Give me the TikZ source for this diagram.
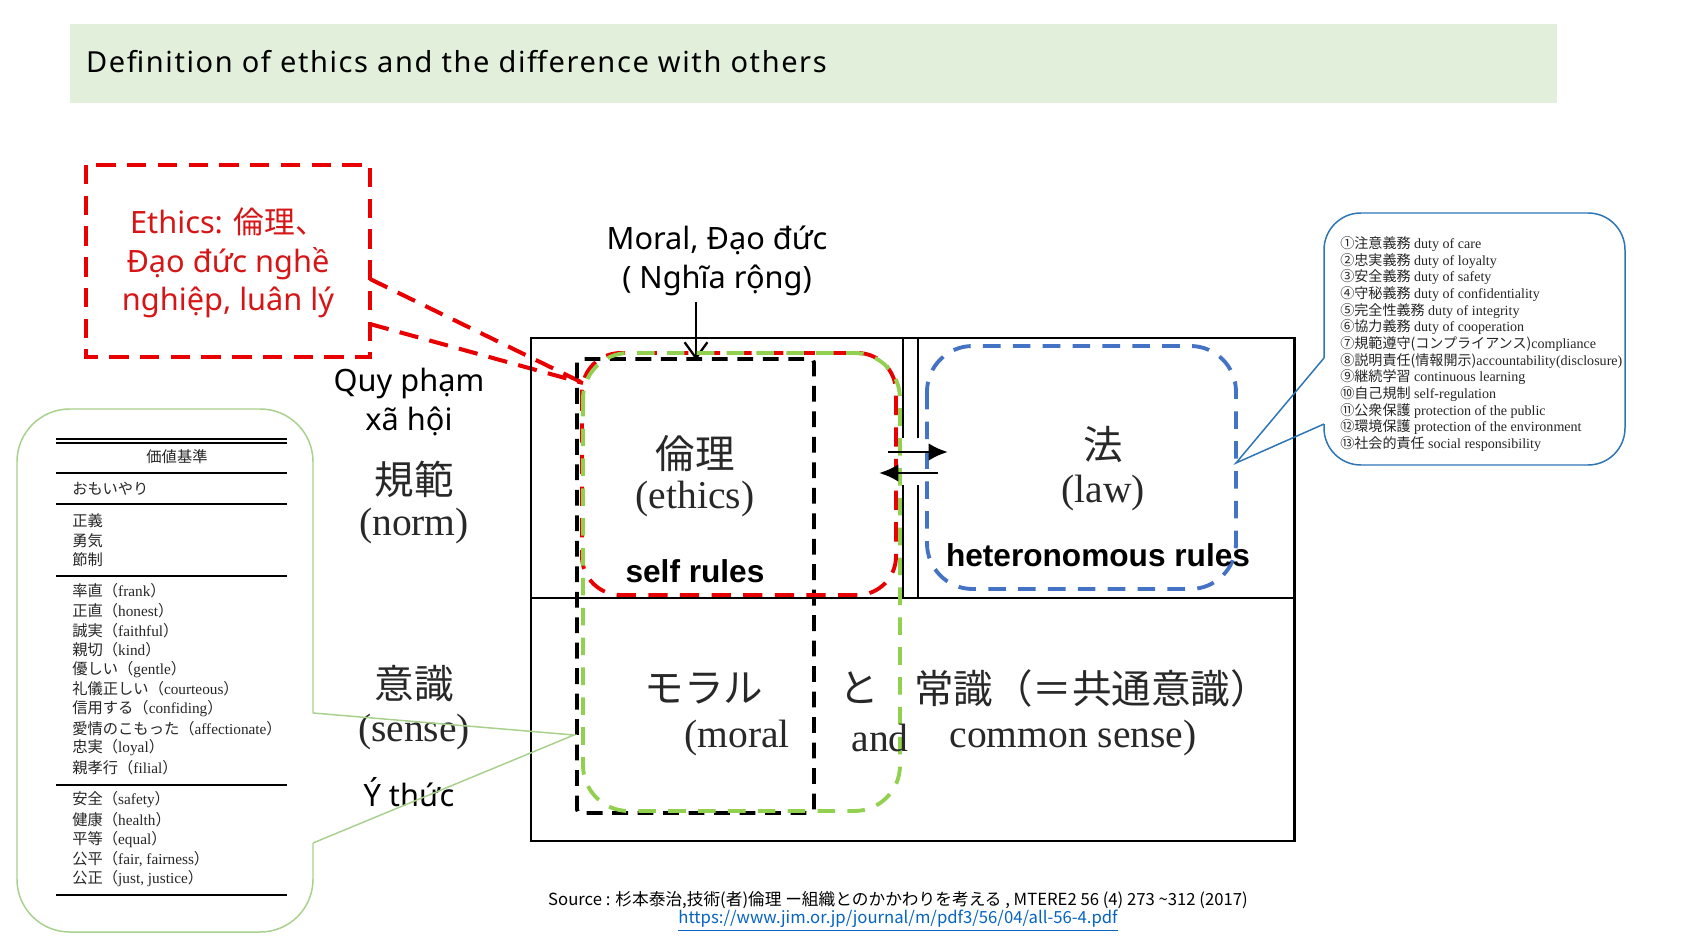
\documentclass[tikz,border=0pt]{standalone}
\usepackage{fontspec}
\setmainfont{Noto Sans}
\newfontfamily\jp{Noto Sans CJK JP}
\newfontfamily\tnr{Liberation Serif}
\newfontfamily\arl{Liberation Sans}
\usepackage{tikz}
\usetikzlibrary{arrows.meta, positioning, calc}
\definecolor{bandgreen}{RGB}{226,239,218}
\definecolor{ethred}{RGB}{232,0,0}
\definecolor{textred}{RGB}{214,22,22}
\definecolor{leafgreen}{RGB}{146,208,80}
\definecolor{sagegreen}{RGB}{169,209,142}
\definecolor{lawblue}{RGB}{68,114,196}
\definecolor{callblue}{RGB}{46,117,182}
\definecolor{linkblue}{RGB}{5,99,193}
\definecolor{inkgray}{RGB}{40,40,40}
% japanese word with a latin gloss in brackets
\newcommand{\jv}[2]{{\jp #1（}#2{\jp ）}}

\begin{document}
\begin{tikzpicture}[x=0.02cm, y=-0.02cm,
  viet/.style={font=\fontsize{17.5}{22}\selectfont, align=center},
  cell/.style={font=\tnr\fontsize{22.5}{27}\selectfont, text=inkgray, inner sep=0pt},
  rulelbl/.style={font=\arl\bfseries\fontsize{18}{22}\selectfont, inner sep=0pt},
  tab/.style={font=\tnr\fontsize{8.7}{10}\selectfont, text=black!85, inner sep=0pt},
  duty/.style={font=\tnr\fontsize{8}{10}\selectfont, text=black!85, inner sep=0pt, anchor=west},
  tabrule/.style={line width=0.9pt},
  dashbox/.style={line width=2.3pt, dash pattern=on 11pt off 6.5pt},
  callout/.style={line width=0.85pt}]
  \useasboundingbox (0,0) rectangle (1695,939);

  % title band
  \fill[bandgreen] (70,24) rectangle (1557,103);
  \node[anchor=west, font=\fontsize{16.5}{20}\selectfont\addfontfeature{LetterSpace=5.5}] (title) at (80,62) {Definition of ethics and the difference with others};

  % ethics note
  \draw[ethred, dashbox] (86,165) rectangle (370,357);
  \node[viet, text=textred] (ethicsnote) at (228,263) {Ethics: {\jp 倫理、}\\Đạo đức nghề\\nghiệp, luân lý};
  \coordinate (noteA) at (370,279);
  \coordinate (noteB) at (370,324);
  \coordinate (ethcorner) at (583,383);
  \draw[ethred, dashbox] (noteA) -- (ethcorner);
  \draw[ethred, dashbox] (noteB) -- (ethcorner);

  % main table
  \draw[line width=1.7pt] (531,338) rectangle (1294,841);
  \draw[line width=1.7pt] (531,598) -- (1294,598);
  \foreach \x in {903,918} {
    \draw[line width=1.3pt] (\x,338) -- (\x,438);
    \draw[line width=1.3pt] (\x,485) -- (\x,598);
  }

  % moral (wide sense)
  \node[viet] (moral) at (717,261) {Moral, Đạo đức\\( Nghĩa rộng)};
  \coordinate (moraltip) at (696,360);
  \draw[line width=1.3pt, -{Straight Barb[length=9pt, width=13pt]}] (moral.south -| moraltip) -- (moraltip);

  % rule groups
  \draw[black, line width=2.2pt, dash pattern=on 9pt off 5.5pt, rounded corners=2pt] (577,359) rectangle (814,813);
  \draw[ethred, line width=2.2pt, dash pattern=on 11pt off 7pt, rounded corners=22pt] (582,353) rectangle (896,595);
  \draw[leafgreen, line width=2.2pt, dash pattern=on 10pt off 7pt, rounded corners=26pt] (583,353) rectangle (900,811);
  \draw[lawblue, line width=2.2pt, dash pattern=on 10pt off 7pt, rounded corners=26pt] (927,346) rectangle (1236,589);

  % row labels
  \node[viet] (social) at (409,402) {Quy phạm\\xã hội};
  \node[cell] (norm) at (414,479) {\jp 規範};
  \node[cell] (normen) at (414,526) {(norm)};
  \node[cell] (sense) at (414,684) {\jp 意識};
  \node[cell] (senseen) at (414,732) {(sense)};
  \node[viet] (awareness) at (409,792) {Ý thức};

  % cells
  \node[cell] (ethics) at (695,454) {\jp 倫理};
  \node[cell] (ethicsen) at (695,499) {(ethics)};
  \node[cell] (law) at (1103,445) {\jp 法};
  \node[cell] (lawen) at (1103,493) {(law)};
  \node[cell] (moraljp) at (704,688) {\jp モラル};
  \node[cell] (andjp) at (859,688) {\jp と};
  \node[cell] (commonjp) at (1092,688) {\jp 常識（＝共通意識）};
  \node[cell] (moralen) at (737,738) {(moral};
  \node[cell] (anden) at (880,738) {and};
  \node[cell] (commonen) at (1073,738) {common sense)};
  \node[rulelbl] (selfrules) at (695,571) {self rules};
  \node[rulelbl] (heterorules) at (1098,555) {heteronomous rules};

  % ethics <-> law
  \coordinate (toLawA) at (888,452);
  \coordinate (toLawB) at (948,452);
  \coordinate (toEthA) at (938,473);
  \coordinate (toEthB) at (879,473);
  \draw[line width=1.7pt, -{Latex[length=11pt, width=10pt]}] (toLawA) -- (toLawB);
  \draw[line width=1.7pt, -{Latex[length=11pt, width=10pt]}] (toEthA) -- (toEthB);

  % duties callout
  \coordinate (dutyA) at (1324,358);
  \coordinate (dutyB) at (1324,424);
  \coordinate (dutytip) at (1236,463);
  \draw[callblue, callout, rounded corners=21pt] (dutyB) -- (1324,465) -- (1625,465) -- (1625,213) -- (1324,213) -- (dutyA);
  \draw[callblue, callout] (dutyA) -- (dutytip) -- (dutyB);
  \foreach \j/\e [count=\i] in {①注意義務/duty of care, ②忠実義務/duty of loyalty, ③安全義務/duty of safety, ④守秘義務/duty of confidentiality, ⑤完全性義務/duty of integrity, ⑥協力義務/duty of cooperation, ⑦規範遵守(コンプライアンス)\tnr compliance/, ⑧説明責任(情報開示)\tnr accountability(disclosure)/, ⑨継続学習/continuous learning, ⑩自己規制/self-regulation, ⑪公衆保護/protection of the public, ⑫環境保護/protection of the environment, ⑬社会的責任/social responsibility}
    \node[duty] (duty\i) at (1340, 227.3+16.67*\i) {{\jp\j} \e};

  % values callout
  \coordinate (valueA) at (313,713);
  \coordinate (valueB) at (313,843);
  \coordinate (valuetip) at (574,735);
  \draw[sagegreen, callout, rounded corners=30pt] (valueB) -- (313,932) -- (17,932) -- (17,409) -- (313,409) -- (valueA);
  \draw[sagegreen, callout] (valueA) -- (valuetip) -- (valueB);
  \foreach \y in {439,443,473,504,576,785,895}
    \draw[tabrule] (56,\y) -- (287,\y);
  \node[tab] (valuehead) at (177,457) {\jp 価値基準};
  \node[tab, anchor=west] (omoiyari) at (72,489) {\jp おもいやり};
  \foreach \v [count=\i] in {正義,勇気,節制}
    \node[tab, anchor=west] (virtue\i) at (72, 501.5+19.5*\i) {\jp\v};
  \foreach \j/\e [count=\i] in {率直/frank, 正直/honest, 誠実/faithful, 親切/kind, 優しい/gentle, 礼儀正しい/courteous, 信用する/confiding, 愛情のこもった/affectionate, 忠実/loyal, 親孝行/filial}
    \node[tab, anchor=west] (trait\i) at (72, 571.4+19.6*\i) {\jv{\j}{\e}};
  \foreach \j/\e [count=\i] in {安全/safety, 健康/health, 平等/equal, 公平/{fair, fairness}, 公正/{just, justice}}
    \node[tab, anchor=west] (social\i) at (72, 780.3+19.7*\i) {\jv{\j}{\e}};

  % source
  \node[font=\jp\fontsize{9.5}{11}\selectfont] (source) at (898,900) {Source : 杉本泰治,技術(者)倫理 ー組織とのかかわりを考える , MTERE2 56 (4) 273 \textasciitilde312 (2017)};
  \node[font=\jp\fontsize{9.5}{11}\selectfont, text=linkblue] (link) at (898,921) {\underline{https://www.jim.or.jp/journal/m/pdf3/56/04/all-56-4.pdf}};
\end{tikzpicture}
\end{document}
